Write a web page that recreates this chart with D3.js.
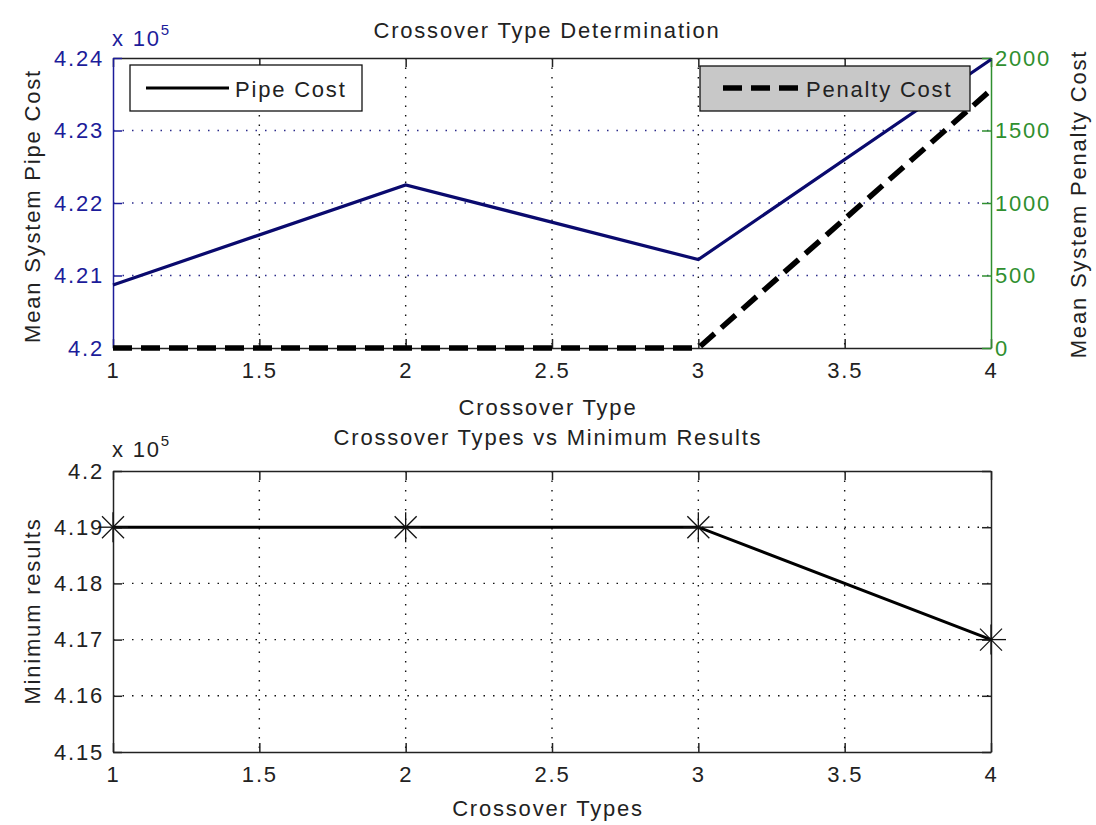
<!DOCTYPE html>
<html>
<head>
<meta charset="utf-8">
<script src="https://cdn.jsdelivr.net/npm/d3@7"></script>
<style>
  body { margin: 0; background: #fff; }
  svg { display: block; font-family: "Liberation Sans", Arial, sans-serif; }
  text { fill: #222; letter-spacing: 1.8px; }
</style>
</head>
<body>
<svg width="1096" height="825"></svg>
<script>
var crossover = [1, 2, 3, 4];
var pipeCost = [4.2087, 4.2225, 4.2122, 4.2398];      // x 10^5
var penaltyCost = [0, 0, 0, 1780];
var minResults = [4.19, 4.19, 4.19, 4.17];             // x 10^5
var xTicks = [1, 1.5, 2, 2.5, 3, 3.5, 4];
var leftTicks = [4.2, 4.21, 4.22, 4.23, 4.24];
var rightTicks = [0, 500, 1000, 1500, 2000];
var minTicks = [4.15, 4.16, 4.17, 4.18, 4.19, 4.2];

var svg = d3.select("svg");
var blue = "#1c1c9a", green = "#2f8f2f", navy = "#0a0a6e";
var fs = 22;
var ff = "'Liberation Sans', Arial, sans-serif";

var x = d3.scaleLinear().domain([1, 4]).range([113, 991]);
var yL = d3.scaleLinear().domain([4.2, 4.24]).range([348, 58]);
var yR = d3.scaleLinear().domain([0, 2000]).range([348, 58]);
var yB = d3.scaleLinear().domain([4.15, 4.2]).range([752, 471]);

function fmt(d) { return String(+d.toFixed(3)); }

function grid(g, y0, y1, yScale, yVals, hColor) {
  g.selectAll(".vg").data(xTicks.slice(1, -1)).enter().append("line")
    .attr("x1", d => x(d)).attr("x2", d => x(d))
    .attr("y1", y0).attr("y2", y1)
    .attr("stroke", "#111").attr("stroke-width", 1.4).attr("stroke-dasharray", "1.5,8");
  g.selectAll(".hg").data(yVals).enter().append("line")
    .attr("x1", 113).attr("x2", 991)
    .attr("y1", d => yScale(d)).attr("y2", d => yScale(d))
    .attr("stroke", hColor).attr("stroke-width", 1.4).attr("stroke-dasharray", "1.5,8");
}

function styleAxis(g, color) {
  g.select(".domain").attr("stroke", color).attr("stroke-width", 1.5);
  g.selectAll(".tick line").attr("stroke", color).attr("stroke-width", 1.5);
  g.selectAll(".tick text").attr("fill", color).style("fill", color).style("font-size", fs + "px")
    .style("font-family", ff);
}

// ---------- top plot ----------
var topG = svg.append("g");
grid(topG, 58, 348, yL, [4.21, 4.22, 4.23], "#2a2a8a");

var xb = topG.append("g").attr("transform", "translate(0,348)")
  .call(d3.axisBottom(x).tickValues(xTicks).tickSizeInner(-9).tickSizeOuter(0).tickPadding(14).tickFormat(fmt));
styleAxis(xb, "#222");
var xt = topG.append("g").attr("transform", "translate(0,58)")
  .call(d3.axisTop(x).tickValues(xTicks).tickSizeInner(-9).tickSizeOuter(0).tickFormat(""));
styleAxis(xt, "#222");

var yl = topG.append("g").attr("transform", "translate(113,0)")
  .call(d3.axisLeft(yL).tickValues(leftTicks).tickSizeInner(-9).tickSizeOuter(0).tickPadding(9).tickFormat(fmt));
styleAxis(yl, blue);
var yr = topG.append("g").attr("transform", "translate(991,0)")
  .call(d3.axisRight(yR).tickValues(rightTicks).tickSizeInner(-9).tickSizeOuter(0).tickPadding(4).tickFormat(d3.format("d")));
styleAxis(yr, green);

// lines
svg.append("clipPath").attr("id", "c1").append("rect")
  .attr("x", 110).attr("y", 55).attr("width", 884).attr("height", 296);
topG.append("path")
  .datum(crossover.map((c, i) => [c, pipeCost[i]]))
  .attr("d", d3.line().x(d => x(d[0])).y(d => yL(d[1])))
  .attr("fill", "none").attr("stroke", navy).attr("stroke-width", 3.2);
topG.append("path")
  .datum(crossover.map((c, i) => [c, penaltyCost[i]]))
  .attr("clip-path", "url(#c1)")
  .attr("d", d3.line().x(d => x(d[0])).y(d => yR(d[1])))
  .attr("fill", "none").attr("stroke", "#000").attr("stroke-width", 5.5).attr("stroke-dasharray", "19,9");

// legends
var lg1 = topG.append("g");
lg1.append("rect").attr("x", 130).attr("y", 65).attr("width", 232).attr("height", 46)
  .attr("fill", "#fff").attr("stroke", "#111").attr("stroke-width", 1.3);
lg1.append("line").attr("x1", 146).attr("x2", 229).attr("y1", 88).attr("y2", 88)
  .attr("stroke", "#000").attr("stroke-width", 3.2);
lg1.append("text").attr("x", 235).attr("y", 97).style("font-size", fs + "px").text("Pipe Cost");

var lg2 = topG.append("g");
lg2.append("rect").attr("x", 700).attr("y", 66).attr("width", 270).attr("height", 45)
  .attr("fill", "#c8c8c8").attr("stroke", "#111").attr("stroke-width", 1.3);
lg2.append("line").attr("x1", 723).attr("x2", 805).attr("y1", 88).attr("y2", 88)
  .attr("stroke", "#000").attr("stroke-width", 5.5).attr("stroke-dasharray", "19,9");
lg2.append("text").attr("x", 806).attr("y", 97).style("font-size", fs + "px").text("Penalty Cost");

// labels
svg.append("text").attr("x", 547).attr("y", 38).attr("text-anchor", "middle").style("font-size", fs + "px").text("Crossover Type Determination");
svg.append("text").attr("x", 548).attr("y", 415).attr("text-anchor", "middle").style("font-size", fs + "px").text("Crossover Type");
var e1 = svg.append("text").attr("x", 112).attr("y", 46).style("font-size", fs + "px").style("fill", blue);
e1.append("tspan").text("x 10");
e1.append("tspan").attr("dy", -11).style("font-size", "15px").text("5");
svg.append("text").attr("transform", "translate(40,206) rotate(-90)").attr("text-anchor", "middle")
  .style("font-size", fs + "px").text("Mean System Pipe Cost");
svg.append("text").attr("transform", "translate(1086,204) rotate(-90)").attr("text-anchor", "middle")
  .style("font-size", fs + "px").text("Mean System Penalty Cost");

// ---------- bottom plot ----------
var botG = svg.append("g");
grid(botG, 471, 752, yB, [4.16, 4.17, 4.18, 4.19], "#111");

var bx = botG.append("g").attr("transform", "translate(0,752)")
  .call(d3.axisBottom(x).tickValues(xTicks).tickSizeInner(-9).tickSizeOuter(0).tickPadding(14).tickFormat(fmt));
styleAxis(bx, "#222");
var bxt = botG.append("g").attr("transform", "translate(0,471)")
  .call(d3.axisTop(x).tickValues(xTicks).tickSizeInner(-9).tickSizeOuter(0).tickFormat(""));
styleAxis(bxt, "#222");
var by = botG.append("g").attr("transform", "translate(113,0)")
  .call(d3.axisLeft(yB).tickValues(minTicks).tickSizeInner(-9).tickSizeOuter(0).tickPadding(9).tickFormat(fmt));
styleAxis(by, "#222");
var byr = botG.append("g").attr("transform", "translate(991,0)")
  .call(d3.axisRight(yB).tickValues(minTicks).tickSizeInner(-9).tickSizeOuter(0).tickFormat(""));
styleAxis(byr, "#222");

var pts = crossover.map((c, i) => [c, minResults[i]]);
botG.append("path").datum(pts)
  .attr("d", d3.line().x(d => x(d[0])).y(d => yB(d[1])))
  .attr("fill", "none").attr("stroke", "#000").attr("stroke-width", 3);
var r = 15, rd = 11;
var mk = botG.selectAll(".mk").data(pts).enter().append("g")
  .attr("transform", d => "translate(" + x(d[0]) + "," + yB(d[1]) + ")");
[[-r, 0, r, 0], [0, -r, 0, r], [-rd, -rd, rd, rd], [-rd, rd, rd, -rd]].forEach(function (s) {
  mk.append("line").attr("x1", s[0]).attr("y1", s[1]).attr("x2", s[2]).attr("y2", s[3])
    .attr("stroke", "#111").attr("stroke-width", 1.3);
});

svg.append("text").attr("x", 548).attr("y", 445).attr("text-anchor", "middle").style("font-size", fs + "px").text("Crossover Types vs Minimum Results");
svg.append("text").attr("x", 548).attr("y", 816).attr("text-anchor", "middle").style("font-size", fs + "px").text("Crossover Types");
var e2 = svg.append("text").attr("x", 112).attr("y", 457).style("font-size", fs + "px");
e2.append("tspan").text("x 10");
e2.append("tspan").attr("dy", -11).style("font-size", "15px").text("5");
svg.append("text").attr("transform", "translate(40,611) rotate(-90)").attr("text-anchor", "middle")
  .style("font-size", fs + "px").text("Minimum results");
</script>
</body>
</html>
